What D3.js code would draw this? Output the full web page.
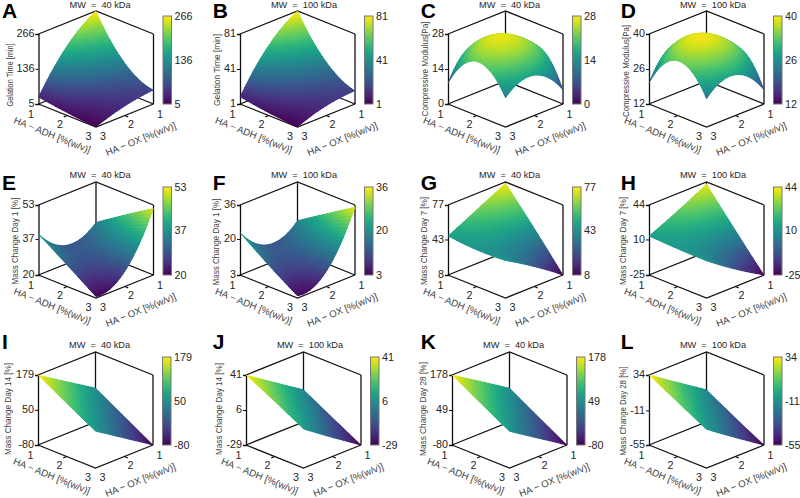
<!DOCTYPE html>
<html>
<head>
<meta charset="utf-8">
<script src="https://cdn.jsdelivr.net/npm/d3@7"></script>
<style>
  html, body { margin: 0; background: #fff; }
  svg { display: block; }
  text { font-family: "Liberation Sans", Arial, sans-serif; }
</style>
</head>
<body>
<svg width="800" height="498"></svg>
<script>
"use strict";
// one entry per panel, A..L
const letters = ["A", "B", "C", "D", "E", "F", "G", "H", "I", "J", "K", "L"];
const molWeights = [40, 100, 40, 100, 40, 100, 40, 100, 40, 100, 40, 100];
const zLabels = [
    "Gelation Time [min]", "Gelation Time [min]", "Compressive Modulus[Pa]", "Compressive Modulus[Pa]",
    "Mass Change Day 1 [%]", "Mass Change Day 1 [%]", "Mass Change Day 7 [%]", "Mass Change Day 7 [%]",
    "Mass Change Day 14 [%]", "Mass Change Day 14 [%]", "Mass Change Day 28 [%]", "Mass Change Day 28 [%]"
];
const zTicks = [
    [5, 136, 266], [1, 41, 81], [0, 14, 28], [12, 26, 40],
    [20, 37, 53], [3, 20, 36], [8, 43, 77], [-25, 10, 44],
    [-80, 50, 179], [-29, 6, 41], [-80, 49, 178], [-55, -11, 34]
];
// surface heights, rows are HA-ADH = 1,2,3 and columns HA-OX = 1,2,3
const surfaces = [
    [[266, 180, 31], [115, 70, 15], [57, 40, 5]],
    [[81, 55, 9.3], [36, 22, 4], [16, 12, 1]],
    [[0, 19, 8.3], [19, 26.8, 21.5], [5.6, 16, 11.6]],
    [[12, 31, 20.3], [30.4, 39.2, 33.8], [17.6, 28.2, 23.2]],
    [[34, 28.7, 39.3], [42.9, 29, 30], [51.4, 27, 20.6]],
    [[17.8, 12, 23], [26.5, 12, 13], [35, 10, 4]],
    [[75.8, 61, 46.4], [42.8, 44, 44], [8, 27.5, 45]],
    [[42, 27, 13.4], [8, 10, 12], [-25, -8, 11.8]],
    [[46, 112, 179], [-17, 50, 117], [-80, -12, 56]],
    [[3.3, 22, 41], [-13, 6.5, 26], [-29, -10, 10]],
    [[45, 112, 178], [-18, 49, 116], [-80, -13, 55]],
    [[-14, 10, 34], [-35, -10, 14], [-55, -31, -6]]
];
const levels = [1, 2, 3];

// layout of the panels
const panelLeft = [38.5, 240, 448, 649, 38.5, 240, 448, 649, 38, 246, 452, 649];
const rowFloor = [104, 275, 445];
const letterX = [2, 212.7, 420.7, 620.7];
const letterBase = [18, 190, 348.7];
const titleBase = [7.5, 178.3, 348];
const zLabelX = [-26, -20, -20, -20, -21, -21, -21, -23, -27, -24, -26, -23];
const zLabelY = [-29, -34, -35, -33, -34, -33, -34, -34, -36, -36, -36, -34];
const zLabelLen = [63, 72, 95, 92, 87, 87, 88, 88, 92, 92, 94, 89];

const svg = d3.select("svg");
const halfW = 57.5, halfH = 23, boxH = 70, cells = 40;
const INK = "#262626", LABEL = "#404040";

const gradient = svg.append("defs").append("linearGradient")
    .attr("id", "viridisBar")
    .attr("x1", 0).attr("x2", 0).attr("y1", 1).attr("y2", 0);
gradient.selectAll("stop")
    .data(d3.range(0, 1.001, 0.05))
    .join("stop")
    .attr("offset", d => d)
    .attr("stop-color", d => d3.interpolateViridis(d));

// quadratic response surface through the nine read values
function surfaceAt(grid, a, o) {
    const w = t => [(t - 2) * (t - 3) / 2, -(t - 1) * (t - 3), (t - 1) * (t - 2) / 2];
    const wa = w(a), wo = w(o);
    return d3.sum(levels, (_, i) => d3.sum(levels, (_, j) => wa[i] * wo[j] * grid[i][j]));
}

letters.forEach((letter, idx) => drawPanel(letter, idx));

function drawPanel(letter, idx) {
    const col = idx % 4, row = Math.floor(idx / 4);
    const left = panelLeft[idx], floor = rowFloor[row];
    const ticks = zTicks[idx];
    const zMin = ticks[0], zMax = ticks[2];
    const g = svg.append("g").attr("transform", `translate(${left},${floor})`);

    const xAdh = d3.scaleLinear([1, 3], [0, halfW]);
    const yAdh = d3.scaleLinear([1, 3], [0, halfH]);
    const xOx = d3.scaleLinear([1, 3], [0, -halfW]);
    const yOx = d3.scaleLinear([1, 3], [0, halfH]);
    const zScale = d3.scaleLinear([zMin, zMax], [0, -boxH]);
    const color = d3.scaleSequential([zMin, zMax], d3.interpolateViridis).clamp(true);
    const px = (a, o) => halfW + xAdh(a) + xOx(o);
    const py = (a, o, z) => -halfH + yAdh(a) + yOx(o) + zScale(z);

    // box: back walls and floor
    const boxLines = [
        [[1, 3, zMin], [1, 1, zMin], [3, 1, zMin]],
        [[1, 3, zMin], [3, 3, zMin], [3, 1, zMin]],
        [[1, 3, zMax], [1, 1, zMax], [3, 1, zMax]],
        [[1, 1, zMin], [1, 1, zMax]],
        [[3, 1, zMin], [3, 1, zMax]],
        // small ticks on the floor edges
        [[2, 3, zMin], [2, 3.12, zMin]],
        [[3, 2, zMin], [3.12, 2, zMin]]
    ];
    const line = d3.line().x(d => px(d[0], d[1])).y(d => py(d[0], d[1], d[2]));
    g.selectAll("path.box")
        .data(boxLines)
        .join("path")
        .attr("class", "box")
        .attr("d", line)
        .attr("fill", "none")
        .attr("stroke", "#111")
        .attr("stroke-width", 1.3);

    // left z axis
    const zAxis = g.append("g")
        .call(d3.axisLeft(zScale).tickValues(ticks).tickSize(3).tickPadding(1).tickFormat(String));
    zAxis.select(".domain").attr("stroke", "#111").attr("stroke-width", 1.3);
    zAxis.selectAll(".tick line").attr("stroke", "#111");
    zAxis.selectAll("text").attr("font-size", 10.8).attr("fill", INK).attr("y", -0.7);

    // surface, painted from the back corner forward
    const step = 2 / cells;
    const quads = [];
    d3.range(cells).forEach(i => d3.range(cells).forEach(j => {
        const a = 1 + i * step, o = 1 + j * step;
        quads.push({
            a, o, order: i + j,
            z: surfaceAt(surfaces[idx], a + step / 2, o + step / 2)
        });
    }));
    quads.sort((p, q) => p.order - q.order);
    const grid = surfaces[idx];
    const corner = (a, o) => `${px(a, o).toFixed(2)},${py(a, o, surfaceAt(grid, a, o)).toFixed(2)}`;
    const soft = g.append("g");
    soft.selectAll("polygon")
        .data(quads)
        .join("polygon")
        .attr("points", d => [corner(d.a, d.o), corner(d.a + step, d.o), corner(d.a + step, d.o + step), corner(d.a, d.o + step)].join(" "))
        .attr("fill", d => color(d.z))
        .attr("stroke", d => color(d.z))
        .attr("stroke-width", 0.4);
    // second pass without antialiasing hides the seams, the first keeps the outline smooth
    soft.clone(true)
        .attr("shape-rendering", "crispEdges")
        .selectAll("polygon")
        .attr("stroke", "none");

    // floor tick labels
    const floorTicks = [
        { v: 1, x: -7.5, y: 13.5 }, { v: 2, x: 21.5, y: 24 }, { v: 3, x: 50, y: 36 },
        { v: 3, x: 64.5, y: 36 }, { v: 2, x: 92.5, y: 24 }, { v: 1, x: 121.5, y: 13.5 }
    ];
    g.selectAll("text.floorTick")
        .data(floorTicks)
        .join("text")
        .attr("class", "floorTick")
        .attr("x", d => d.x)
        .attr("y", d => d.y)
        .attr("text-anchor", "middle")
        .attr("font-size", 10.8)
        .attr("fill", INK)
        .text(d => d.v);

    // axis titles
    g.append("text")
        .attr("transform", `translate(12.5,34) rotate(22)`)
        .attr("text-anchor", "middle")
        .attr("font-size", 9.6)
        .attr("fill", LABEL)
        .attr("textLength", 82)
        .attr("lengthAdjust", "spacingAndGlyphs")
        .text("HA \u2212 ADH [%(w/v)]");
    g.append("text")
        .attr("transform", `translate(103.5,38) rotate(-22)`)
        .attr("text-anchor", "middle")
        .attr("font-size", 9.6)
        .attr("fill", LABEL)
        .attr("textLength", 75)
        .attr("lengthAdjust", "spacingAndGlyphs")
        .text("HA \u2212 OX [%(w/v)]");
    g.append("text")
        .attr("transform", `translate(${zLabelX[idx]},${zLabelY[idx]}) rotate(-90)`)
        .attr("text-anchor", "middle")
        .attr("font-size", 9.6)
        .attr("fill", LABEL)
        .attr("textLength", zLabelLen[idx])
        .attr("lengthAdjust", "spacingAndGlyphs")
        .text(zLabels[idx]);

    // title
    g.append("text")
        .attr("x", molWeights[idx] === 40 ? 61.5 : 64)
        .attr("y", titleBase[row] - floor)
        .attr("text-anchor", "middle")
        .attr("font-size", 9.2)
        .attr("fill", INK)
        .text(`MW\u00a0\u00a0=\u00a0\u00a0${molWeights[idx]} kDa`);

    // colour bar
    const barScale = d3.scaleLinear([zMin, zMax], [0, -88]);
    const bar = g.append("g").attr("transform", "translate(124.5,0)");
    bar.append("rect")
        .attr("y", -88)
        .attr("width", 8.5)
        .attr("height", 88)
        .attr("fill", "url(#viridisBar)")
        .attr("stroke", "#777")
        .attr("stroke-width", 1);
    const barAxis = bar.append("g")
        .attr("transform", "translate(8.5,0)")
        .call(d3.axisRight(barScale).tickValues(ticks).tickSize(0).tickPadding(3).tickFormat(String));
    barAxis.select(".domain").remove();
    barAxis.selectAll("text").attr("font-size", 10.8).attr("fill", INK);

    // panel letter
    svg.append("text")
        .attr("x", letterX[col])
        .attr("y", letterBase[row])
        .attr("font-size", 21)
        .attr("font-weight", "bold")
        .attr("fill", "#000")
        .text(letter);
}
</script>
</body>
</html>
